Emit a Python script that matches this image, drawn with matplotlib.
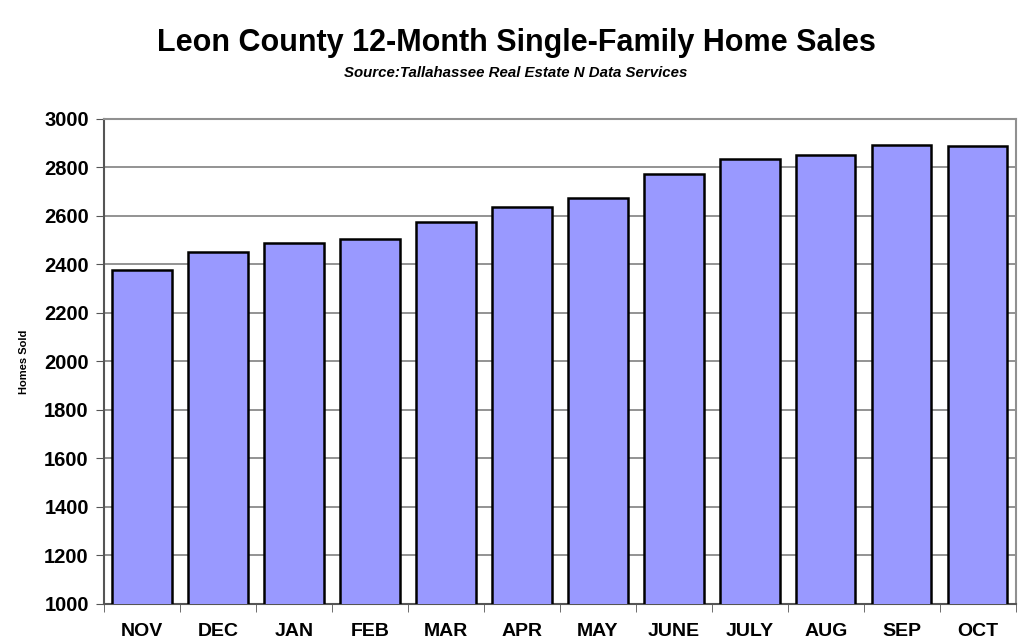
import matplotlib
matplotlib.use("Agg")
import matplotlib.pyplot as plt
import numpy as np

plt.rcParams['font.family'] = ['Liberation Sans', 'DejaVu Sans']

months = ["NOV", "DEC", "JAN", "FEB", "MAR", "APR", "MAY", "JUNE", "JULY", "AUG", "SEP", "OCT"]
homes_sold = [2376, 2452, 2490, 2506, 2575, 2638, 2675, 2772, 2834, 2853, 2891, 2889]

fig = plt.figure(figsize=(10.24, 6.43), dpi=100)
ax = fig.add_axes([0.1016, 0.0607, 0.8904, 0.7543])

x = np.arange(len(months))
ax.bar(x, homes_sold, width=0.78, bottom=0, color="#9999FF", edgecolor="black",
       linewidth=1.8, zorder=3)

ax.set_ylim(1000, 3000)
ax.set_xlim(-0.5, len(months) - 0.5)
ax.set_yticks(np.arange(1000, 3001, 200))
ax.tick_params(axis="y", labelsize=14.5, length=6, color="#555555", pad=5)
for lbl in ax.get_yticklabels():
    lbl.set_fontweight("bold")

# category labels centred, tick marks between categories
ax.set_xticks(x)
ax.set_xticklabels(months, fontsize=14, fontweight="bold")
ax.tick_params(axis="x", length=0, pad=14)
ax.set_xticks(np.arange(-0.5, len(months)), minor=True)
ax.tick_params(axis="x", which="minor", length=6, color="#555555")

ax.grid(axis="y", color="#808080", linewidth=1.2, zorder=0)
for side in ["top", "right"]:
    ax.spines[side].set_color("#909090")
    ax.spines[side].set_linewidth(1.5)
ax.spines["left"].set_color("#555555")
ax.spines["left"].set_linewidth(1.5)
ax.spines["bottom"].set_color("#555555")
ax.spines["bottom"].set_linewidth(1.5)

ax.set_ylabel("Homes Sold", fontsize=8, fontweight="bold", labelpad=11)

fig.text(0.504, 0.933, "Leon County 12-Month Single-Family Home Sales",
         ha="center", va="center", fontsize=22, fontweight="bold")
fig.text(0.504, 0.886, "Source:Tallahassee Real Estate N Data Services",
         ha="center", va="center", fontsize=10.8, fontweight="bold", style="italic")

fig.savefig("out.png", dpi=100)
